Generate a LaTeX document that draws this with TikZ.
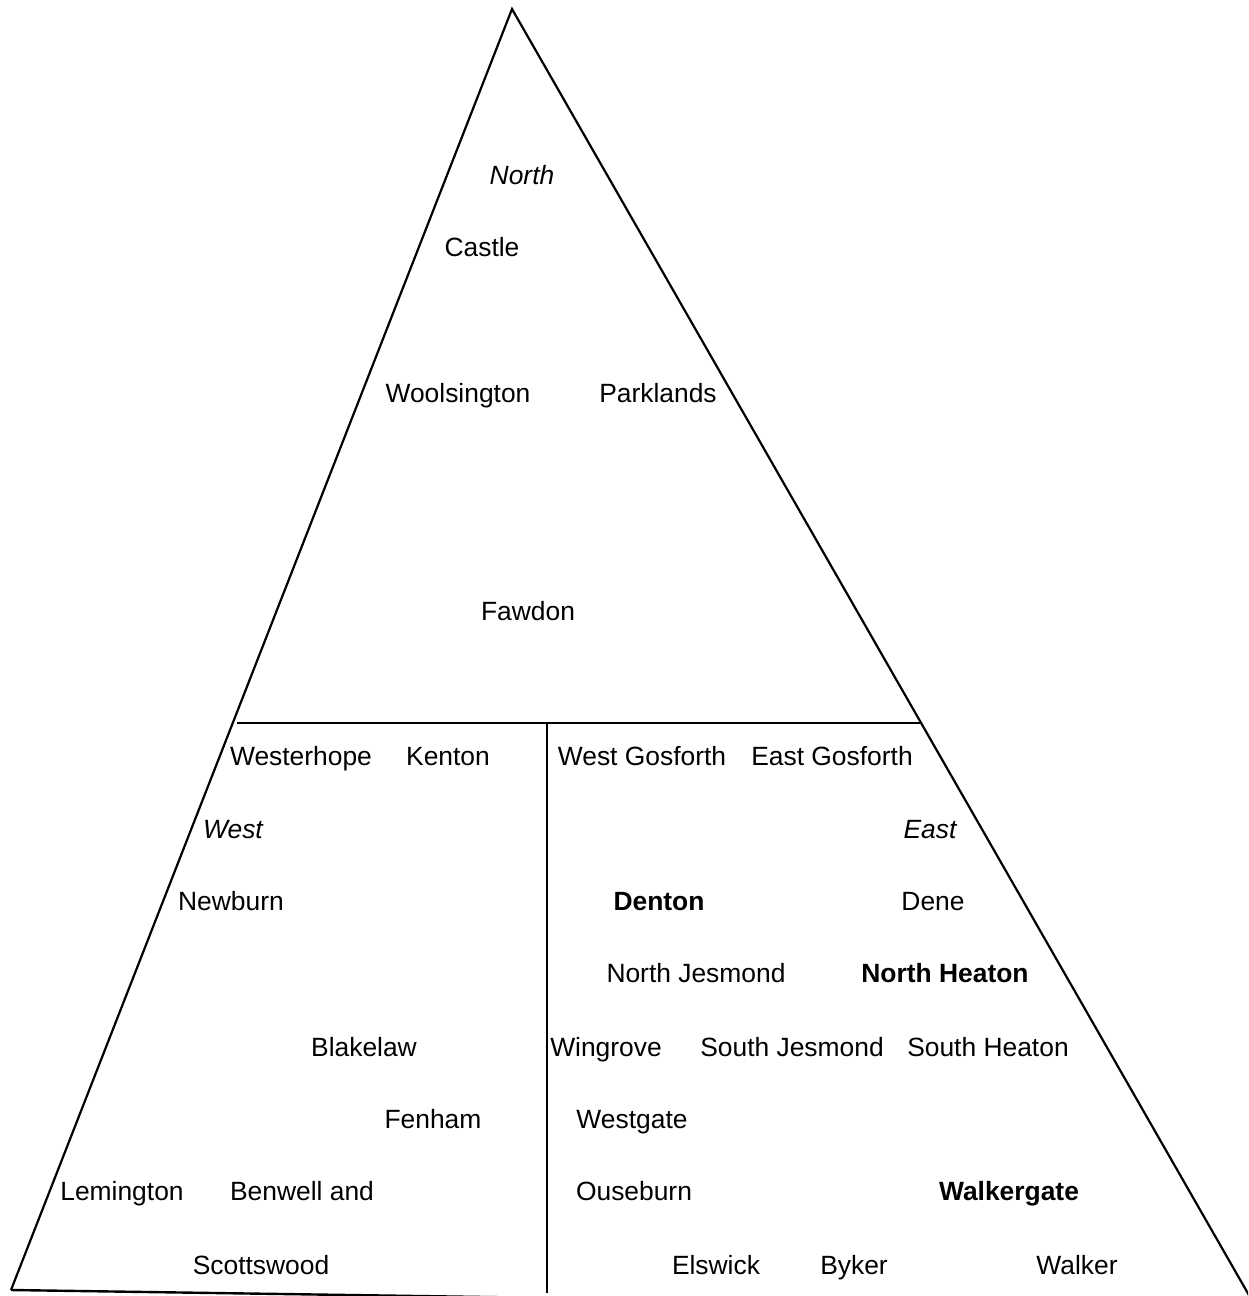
\documentclass[tikz,border=0pt]{standalone}
\usepackage{fontspec}
\setmainfont{Liberation Sans}
\begin{document}
\begin{tikzpicture}[x=1pt,y=-1pt,
  lbl/.style={inner sep=0pt,text height=19pt,text depth=0pt,font=\fontsize{26.4}{30}\selectfont},
  edge/.style={line width=2.2pt,line join=miter}]
\useasboundingbox (0,0) rectangle (1248,1296);
\begin{scope}
\clip (0,0) rectangle (1248,1296);
\coordinate (apex) at (512,9);
\coordinate (bl) at (11,1290);
\coordinate (br) at (1250,1297);
\coordinate (hl) at (237,723);
\coordinate (hr) at (920,723);
\coordinate (vt) at (547,723);
\coordinate (vb) at (547,1293);
\coordinate (baseend) at (620,1299);
\draw[edge] (bl) -- (apex) -- (br);
\draw[edge,line width=2.4pt] (bl) -- (baseend);
\draw[edge] (hl) -- (hr);
\draw[edge] (vt) -- (vb);
\end{scope}
\node[lbl,font=\fontsize{26.4}{30}\selectfont\itshape] (north) at (522,175) {North};
\node[lbl] (castle) at (482,247) {Castle};
\node[lbl] (woolsington) at (458,393) {Woolsington};
\node[lbl] (parklands) at (658,393) {Parklands};
\node[lbl] (fawdon) at (528,611) {Fawdon};
\node[lbl] (westerhope) at (301,756) {Westerhope};
\node[lbl] (kenton) at (448,756) {Kenton};
\node[lbl] (westgosforth) at (642,756) {West Gosforth};
\node[lbl] (eastgosforth) at (832,756) {East Gosforth};
\node[lbl,font=\fontsize{26.4}{30}\selectfont\itshape] (west) at (233,829) {West};
\node[lbl,font=\fontsize{26.4}{30}\selectfont\itshape] (east) at (930,829) {East};
\node[lbl] (newburn) at (231,901) {Newburn};
\node[lbl,font=\fontsize{26.4}{30}\selectfont\bfseries] (denton) at (659,901) {Denton};
\node[lbl] (dene) at (933,901) {Dene};
\node[lbl] (northjesmond) at (696,973) {North Jesmond};
\node[lbl,font=\fontsize{26.4}{30}\selectfont\bfseries] (northheaton) at (945,973) {North Heaton};
\node[lbl] (blakelaw) at (364,1047) {Blakelaw};
\node[lbl] (wingrove) at (606,1047) {Wingrove};
\node[lbl] (southjesmond) at (792,1047) {South Jesmond};
\node[lbl] (southheaton) at (988,1047) {South Heaton};
\node[lbl] (fenham) at (433,1119) {Fenham};
\node[lbl] (westgate) at (632,1119) {Westgate};
\node[lbl] (lemington) at (122,1191) {Lemington};
\node[lbl] (benwell) at (302,1191) {Benwell and};
\node[lbl] (ouseburn) at (634,1191) {Ouseburn};
\node[lbl,font=\fontsize{26.4}{30}\selectfont\bfseries] (walkergate) at (1009,1191) {Walkergate};
\node[lbl] (scottswood) at (261,1265) {Scottswood};
\node[lbl] (elswick) at (716,1265) {Elswick};
\node[lbl] (byker) at (854,1265) {Byker};
\node[lbl] (walker) at (1077,1265) {Walker};
\end{tikzpicture}
\end{document}
